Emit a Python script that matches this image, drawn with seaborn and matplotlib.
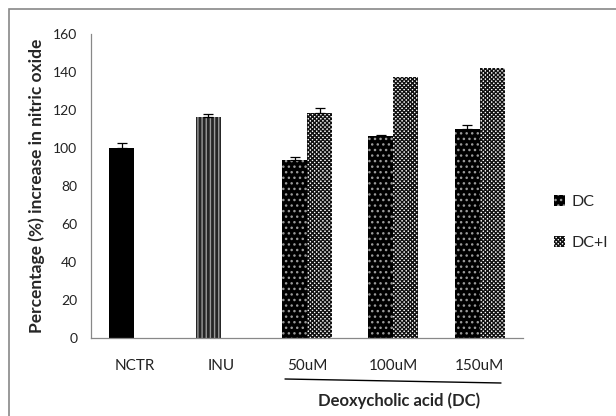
import numpy as np
import pandas as pd
import matplotlib
matplotlib.use("Agg")
import matplotlib.pyplot as plt
import seaborn as sns
from matplotlib.patches import Patch, Rectangle
from matplotlib.lines import Line2D

categories = ["NCTR", "INU", "50uM", "100uM", "150uM"]
# left slot: control / inulin / DC alone ; right slot: DC + inulin
dc_values = [100, 116.5, 93.5, 106.5, 110]
dc_errors = [2.5, 1.5, 1.5, 0.5, 2.0]
dci_values = [np.nan, np.nan, 118.5, 137.5, 142]
dci_errors = [np.nan, np.nan, 2.5, 0, 0]

df = pd.DataFrame({
    "category": categories * 2,
    "series": ["DC"] * 5 + ["DC+I"] * 5,
    "value": dc_values + dci_values,
})

sns.set_style("white")
plt.rcParams["font.family"] = ["Lato", "DejaVu Sans"]
plt.rcParams["hatch.linewidth"] = 1.0

fig = plt.figure(figsize=(6.16, 4.16), dpi=100)
ax = fig.add_axes([0.148, 0.1875, 0.701, 0.7308])

sns.barplot(data=df, x="category", y="value", hue="series", order=categories,
            hue_order=["DC", "DC+I"], width=0.58, ax=ax, legend=False,
            errorbar=None, saturation=1)

# map every bar back to its category by its centre on the category axis
bars = [p for p in ax.patches if isinstance(p, Rectangle)]
DOTS = dict(facecolor="black", edgecolor="#9a9a9a", hatch="...")
CHECK = dict(facecolor="white", edgecolor="#111111", hatch="xxxxxxxx")
for p in bars:
    cx = p.get_x() + p.get_width() / 2
    idx = int(round(cx))
    is_left = cx < idx
    p.set_linewidth(0)
    if is_left:
        v, e = dc_values[idx], dc_errors[idx]
        if idx == 0:
            p.set_facecolor("black")
            p.set_edgecolor("black")
        elif idx == 1:
            p.set_facecolor("#262626")
            p.set_edgecolor("#9a9a9a")
            p.set_hatch("||||")
        else:
            p.set_facecolor(DOTS["facecolor"])
            p.set_edgecolor(DOTS["edgecolor"])
            p.set_hatch(DOTS["hatch"])
    else:
        v, e = dci_values[idx], dci_errors[idx]
        p.set_facecolor(CHECK["facecolor"])
        p.set_edgecolor(CHECK["edgecolor"])
        p.set_hatch(CHECK["hatch"])
    if not np.isnan(v) and e > 0:
        ax.errorbar(cx, v, yerr=[[0], [e]], fmt="none", ecolor="black",
                    elinewidth=0.9, capsize=3.5, capthick=0.9)

ax.set_ylim(0, 160)
ax.set_xlim(-0.5, 4.5)
ax.set_yticks(range(0, 161, 20))
ax.set_xticks(range(5))
ax.set_xticklabels(categories)
ax.set_xticks(np.arange(-0.5, 5, 1), minor=True)
ax.tick_params(axis="x", which="major", length=0, pad=15, labelsize=11, colors="#222222")
ax.tick_params(axis="x", which="minor", length=5, width=0.8, color="#888888", direction="out")
ax.tick_params(axis="y", length=5, width=0.8, color="#888888", direction="out",
               labelsize=10, pad=5)
ax.tick_params(axis="y", labelcolor="#222222")
sns.despine(ax=ax)
for s in ["left", "bottom"]:
    ax.spines[s].set_color("#888888")
    ax.spines[s].set_linewidth(0.9)

ax.set_xlabel("")
ax.set_ylabel("Percentage (%) increase in nitric oxide", fontsize=12.5,
              fontweight="bold", labelpad=6)

# group underline and label for DC concentrations
fig.add_artist(Line2D([285 / 616, 501 / 616], [1 - 379 / 416, 1 - 383 / 416],
                      color="black", lw=1.0))
fig.text(399 / 616, 1 - 401 / 416, "Deoxycholic acid (DC)", ha="center",
         va="center", fontsize=12, fontweight="bold")

# legend
handles = [Patch(facecolor=DOTS["facecolor"], edgecolor=DOTS["edgecolor"],
                 hatch=DOTS["hatch"], lw=0, label="DC"),
           Patch(facecolor=CHECK["facecolor"], edgecolor=CHECK["edgecolor"],
                 hatch=CHECK["hatch"], lw=0, label="DC+I")]
fig.legend(handles=handles, loc="center left", bbox_to_anchor=(0.876, 0.465),
           frameon=False, fontsize=11.5, handlelength=0.7, handleheight=0.7,
           handletextpad=0.4, labelspacing=1.7)

# outer chart frame
fig.add_artist(Rectangle((9 / 616, -0.1), 1.2, 1 - 9 / 416 + 0.1,
                         transform=fig.transFigure, fill=False,
                         edgecolor="#888888", lw=1.2))

fig.savefig("out.png", dpi=100)
